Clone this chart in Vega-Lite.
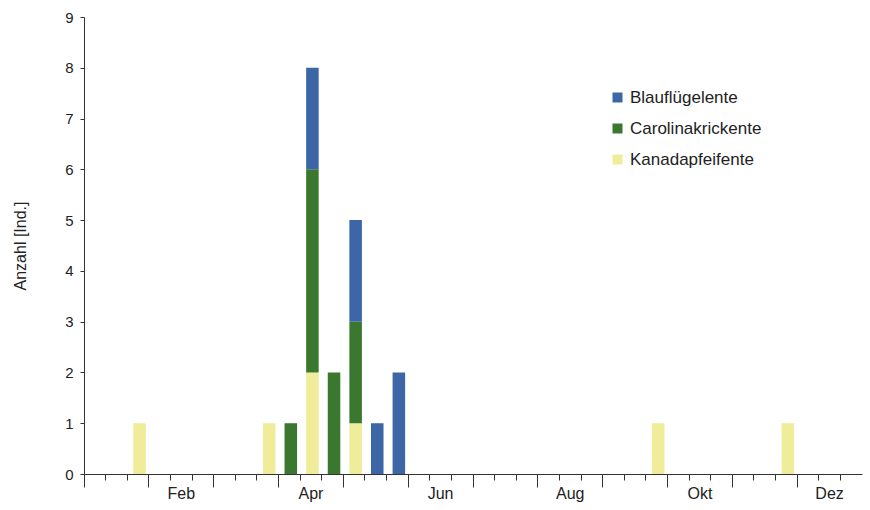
{
  "$schema": "https://vega.github.io/schema/vega-lite/v6.json",
  "width": 778,
  "height": 457,
  "autosize": "none",
  "padding": {"left": 84, "top": 17, "right": 8, "bottom": 36},
  "background": "white",
  "config": {
    "view": {"stroke": null},
    "font": "Liberation Sans",
    "axis": {"labelFont": "Liberation Sans", "titleFont": "Liberation Sans", "labelColor": "#222", "titleColor": "#222", "domainColor": "#333", "tickColor": "#333"}
  },
  "data": {
    "values": [
      {"dekade": "Jan-3", "art": "Kanadapfeifente", "anzahl": 1},
      {"dekade": "Mär-3", "art": "Kanadapfeifente", "anzahl": 1},
      {"dekade": "Apr-2", "art": "Kanadapfeifente", "anzahl": 2},
      {"dekade": "Mai-1", "art": "Kanadapfeifente", "anzahl": 1},
      {"dekade": "Sep-3", "art": "Kanadapfeifente", "anzahl": 1},
      {"dekade": "Nov-3", "art": "Kanadapfeifente", "anzahl": 1},
      {"dekade": "Apr-1", "art": "Carolinakrickente", "anzahl": 1},
      {"dekade": "Apr-2", "art": "Carolinakrickente", "anzahl": 4},
      {"dekade": "Apr-3", "art": "Carolinakrickente", "anzahl": 2},
      {"dekade": "Mai-1", "art": "Carolinakrickente", "anzahl": 2},
      {"dekade": "Apr-2", "art": "Blauflügelente", "anzahl": 2},
      {"dekade": "Mai-1", "art": "Blauflügelente", "anzahl": 2},
      {"dekade": "Mai-2", "art": "Blauflügelente", "anzahl": 1},
      {"dekade": "Mai-3", "art": "Blauflügelente", "anzahl": 2}
    ]
  },
  "mark": {"type": "bar", "width": {"band": 0.58}, "xOffset": 1.5},
  "encoding": {
    "x": {
      "field": "dekade",
      "type": "ordinal",
      "scale": {
        "domain": ["Jan-1","Jan-2","Jan-3","Feb-1","Feb-2","Feb-3","Mär-1","Mär-2","Mär-3","Apr-1","Apr-2","Apr-3","Mai-1","Mai-2","Mai-3","Jun-1","Jun-2","Jun-3","Jul-1","Jul-2","Jul-3","Aug-1","Aug-2","Aug-3","Sep-1","Sep-2","Sep-3","Okt-1","Okt-2","Okt-3","Nov-1","Nov-2","Nov-3","Dez-1","Dez-2","Dez-3"],
        "paddingInner": 0,
        "paddingOuter": 0
      },
      "axis": {
        "title": null,
        "bandPosition": 0,
        "labelAngle": 0,
        "labelFontSize": 16,
        "labelPadding": 5,
        "tickSize": {"condition": {"test": "slice(datum.value, -1) === '1'", "value": 13}, "value": 6},
        "labelExpr": "slice(datum.value, -1) === '2' && indexof(['Feb','Apr','Jun','Aug','Okt','Dez'], slice(datum.value, 0, 3)) >= 0 ? slice(datum.value, 0, 3) : ''"
      }
    },
    "y": {
      "field": "anzahl",
      "type": "quantitative",
      "aggregate": "sum",
      "stack": "zero",
      "scale": {"domain": [0, 9], "nice": false},
      "axis": {
        "title": "Anzahl [Ind.]",
        "titleFontSize": 16,
        "titleFontWeight": "normal",
        "titlePadding": 36,
        "values": [0,1,2,3,4,5,6,7,8,9],
        "grid": false,
        "tickSize": 4,
        "labelFontSize": 15,
        "labelPadding": 7
      }
    },
    "color": {
      "field": "art",
      "type": "nominal",
      "scale": {
        "domain": ["Blauflügelente", "Carolinakrickente", "Kanadapfeifente"],
        "range": ["#3d66a6", "#3a7830", "#efec9a"]
      },
      "legend": {
        "title": null,
        "orient": "none",
        "legendX": 525,
        "legendY": 72,
        "symbolType": "square",
        "symbolSize": 100,
        "symbolStrokeWidth": 0,
        "labelFontSize": 17,
        "labelColor": "#222",
        "rowPadding": 13,
        "labelOffset": 4
      }
    },
    "order": {"field": "art", "sort": "descending"}
  }
}
